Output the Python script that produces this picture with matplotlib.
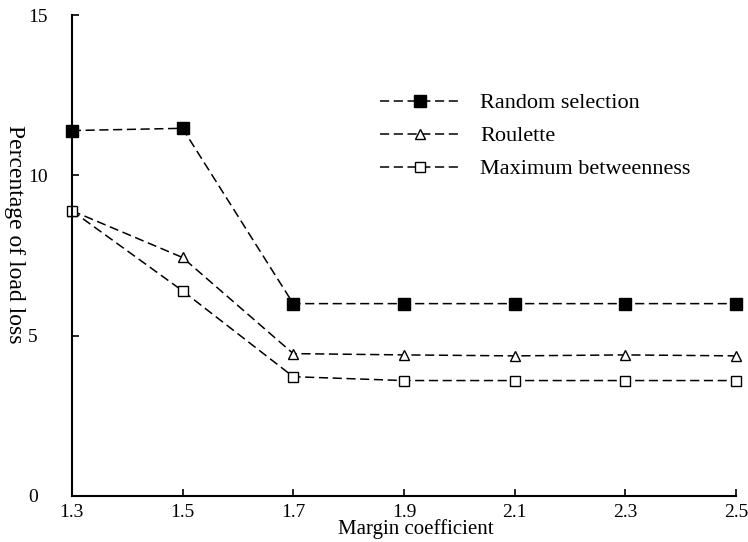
import numpy as np
import matplotlib.pyplot as plt

plt.rcParams['font.family'] = ['Liberation Serif', 'DejaVu Serif']

# valores
margen = [1.3, 1.5, 1.7, 1.9, 2.1, 2.3, 2.5]
aleatoria = [11.4, 11.47, 6.0, 6.0, 6.0, 6.0, 6.0]
ruleta = [8.9, 7.44, 4.44, 4.4, 4.37, 4.4, 4.37]
max_intermediacion = [8.9, 6.4, 3.72, 3.6, 3.6, 3.6, 3.6]
yticks = [0, 5, 10, 15]

fig = plt.figure(figsize=(7.48, 5.42), dpi=100)
ax = fig.add_axes([0.096, 0.085, 0.888, 0.887])

estilo = dict(color='black', ls='--', lw=1.1, dashes=(6, 3), clip_on=False, mec='black')
ax.plot(margen, aleatoria, marker='s', ms=8.5, mfc='black',
        label='Random selection', **estilo)
ax.plot(margen, ruleta, marker='^', ms=7, mfc='white',
        label='Roulette', **estilo)
ax.plot(margen, max_intermediacion, marker='s', ms=6.5, mfc='white',
        label='Maximum betweenness', **estilo)

ax.set_xlim(1.3, 2.5)
ax.set_ylim(0, 15)
ax.set_xticks(margen)
ax.set_xticklabels([f'{m:.1f}' for m in margen])
ax.set_yticks(yticks)

ax.spines['top'].set_visible(False)
ax.spines['right'].set_visible(False)
ax.spines['left'].set_linewidth(1.5)
ax.spines['bottom'].set_linewidth(1.5)
ax.tick_params(direction='in', length=5, width=1.2, labelsize=14)
ax.tick_params(axis='x', pad=6)
ax.tick_params(axis='y', pad=31.5)
# etiquetas del eje y alineadas a la izquierda
for et in ax.get_yticklabels():
    et.set_horizontalalignment('left')

ax.set_xlabel('Margin coefficient', fontsize=15, va='center')
ax.xaxis.set_label_coords(0.518, -0.068)
ax.set_ylabel('Percentage of load loss', fontsize=17, rotation=-90, va='center')
ax.yaxis.set_label_coords(-0.086, 0.545)

ax.legend(loc='upper left', bbox_to_anchor=(0.434, 0.88), frameon=False,
          fontsize=16, handlelength=3.6, handletextpad=0.9, labelspacing=0.56)

fig.savefig('out.png', dpi=100)
